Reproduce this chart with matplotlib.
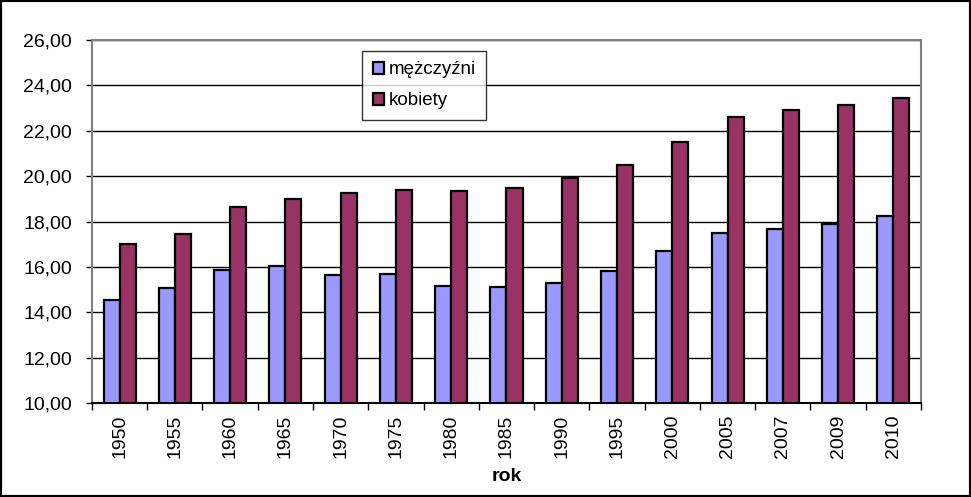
#!/usr/bin/env python3
"""Bar chart: mężczyźni vs kobiety by year."""

import numpy as np
import matplotlib

matplotlib.use("Agg")
import matplotlib.pyplot as plt
from matplotlib.patches import Rectangle

years = ["1950", "1955", "1960", "1965", "1970", "1975", "1980", "1985",
         "1990", "1995", "2000", "2005", "2007", "2009", "2010"]
men = [14.54, 15.07, 15.86, 16.04, 15.65, 15.70, 15.16, 15.11,
       15.29, 15.83, 16.71, 17.51, 17.67, 17.89, 18.24]
women = [17.01, 17.45, 18.64, 18.99, 19.26, 19.39, 19.34, 19.48,
         19.92, 20.49, 21.51, 22.62, 22.92, 23.15, 23.45]
y_ticks = [10, 12, 14, 16, 18, 20, 22, 24, 26]

plt.rcParams["font.family"] = ["Liberation Sans", "DejaVu Sans"]

fig = plt.figure(figsize=(9.71, 4.97), dpi=100)
ax = fig.add_axes([0.0947, 0.1891, 0.9485 - 0.0947, 0.9195 - 0.1891])

x = np.arange(len(years))
width = 0.29
ax.bar(x - width / 2, men, width, color="#9999FF",
       edgecolor="black", linewidth=1.6, label="mężczyźni", zorder=3)
ax.bar(x + width / 2, women, width, color="#993366",
       edgecolor="black", linewidth=1.6, label="kobiety", zorder=3)

ax.set_xlim(-0.5, len(years) - 0.5)
ax.set_ylim(10, 26)
ax.set_yticks(y_ticks)
ax.set_yticklabels([f"{v:.2f}".replace(".", ",") for v in y_ticks], fontsize=14)
ax.yaxis.grid(True, color="black", linewidth=1.0, zorder=0)

ax.set_xticks(x)
ax.set_xticklabels(years, rotation=90, fontsize=14)
ax.tick_params(axis="x", length=0, pad=8.5)
ax.set_xticks(np.arange(-0.5, len(years)), minor=True)
ax.tick_params(axis="x", which="minor", length=5, color="black", width=1)
ax.tick_params(axis="y", length=4.3, width=1, color="black", pad=10)

for side in ["top", "right", "left", "bottom"]:
    ax.spines[side].set_color("#808080")
    ax.spines[side].set_linewidth(1.5)
ax.spines["bottom"].set_color("black")
ax.spines["bottom"].set_zorder(4)

ax.set_xlabel("rok", fontsize=14, fontweight="bold", labelpad=7)

leg = ax.legend(loc="upper left", bbox_to_anchor=(0.326, 0.97), fontsize=13.5,
                frameon=True, fancybox=False, edgecolor="black",
                handlelength=0.6, handleheight=0.6, handletextpad=0.25,
                labelspacing=0.75, borderpad=0.55, borderaxespad=0)
leg.get_frame().set_linewidth(1.0)

fig.patches.append(Rectangle((0, 0), 1, 1, transform=fig.transFigure,
                             fill=False, edgecolor="black", linewidth=3))

fig.savefig("out.png", dpi=100)
